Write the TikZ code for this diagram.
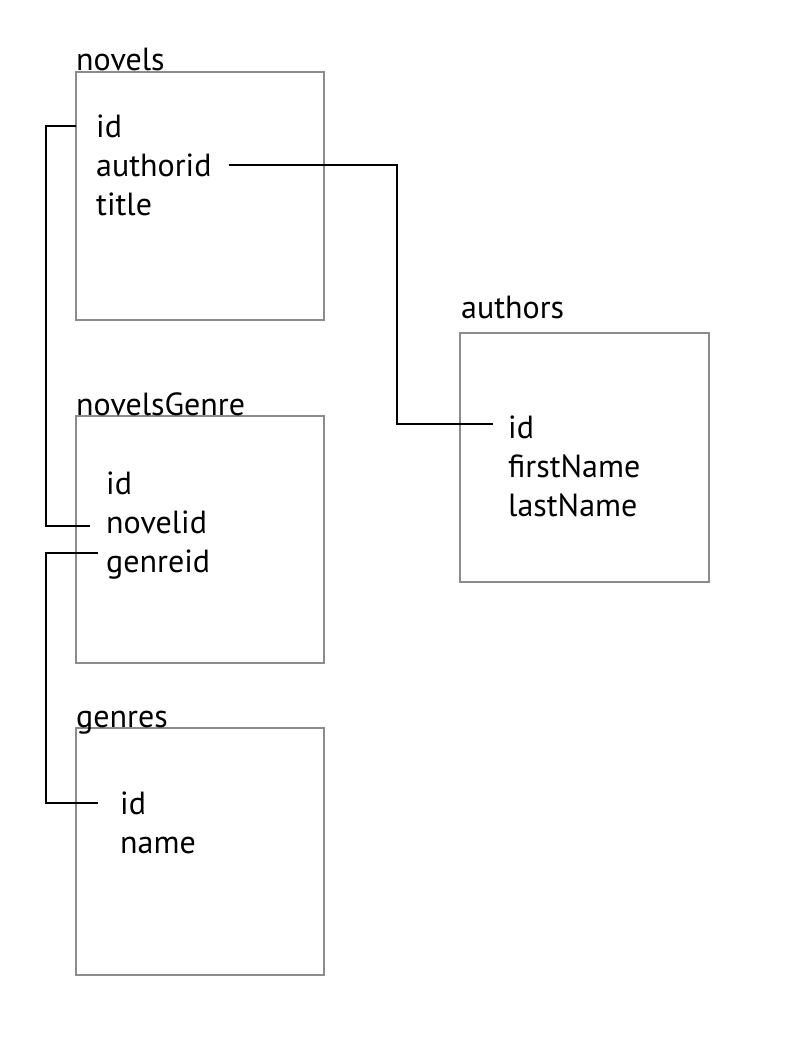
\documentclass[tikz,border=0pt]{standalone}
\usepackage{fontspec}
\setmainfont{PT Sans}
\begin{document}
\begin{tikzpicture}[x=1pt,y=-1pt,
  cadre/.style={draw=black!45,line width=1.6pt},
  titre/.style={anchor=base west,inner sep=0pt},
  champ/.style={anchor=base west,inner sep=0pt,text height=22pt,text depth=0pt},
  lien/.style={line width=1.6pt}]
\fontsize{32}{38}\selectfont
% Mise en place
\useasboundingbox(0,0)rectangle(794,1062);
\draw[cadre](76,72)rectangle(324,320);
\draw[cadre](76,416)rectangle(324,663);
\draw[cadre](76,728)rectangle(324,975);
\draw[cadre](460,333)rectangle(709,582);
% Tables
\node[titre](nov)at(76,71){novels};
\node[champ](nov-id)at(96,137){id};
\node[champ](nov-authorid)at(96,176){authorid};
\node[champ](nov-title)at(96,215){title};
\node[titre](ng)at(76,415){novelsGenre};
\node[champ](ng-id)at(106,494){id};
\node[champ](ng-novelid)at(106,533){novelid};
\node[champ](ng-genreid)at(106,572){genreid};
\node[titre](gen)at(76,727){genres};
\node[champ](gen-id)at(120,814){id};
\node[champ](gen-name)at(120,853){name};
\node[titre](aut)at(461,318){authors};
\node[champ](aut-id)at(508,438){id};
\node[champ](aut-first)at(508,477){firstName};
\node[champ](aut-last)at(508,516){lastName};
% Liens
\draw[lien]([xshift=-20pt]nov-id.west)--++(-30,0)|-([xshift=-16pt,yshift=-4pt]ng-novelid.west);
\draw[lien]([xshift=-8pt,yshift=8pt]ng-genreid.west)--++(-52,0)|-([xshift=-22pt]gen-id.west);
\draw[lien]([xshift=17pt]nov-authorid.east)-|([xshift=-111pt,yshift=3pt]aut-id.west)--([xshift=-15pt,yshift=3pt]aut-id.west);
\end{tikzpicture}
\end{document}
